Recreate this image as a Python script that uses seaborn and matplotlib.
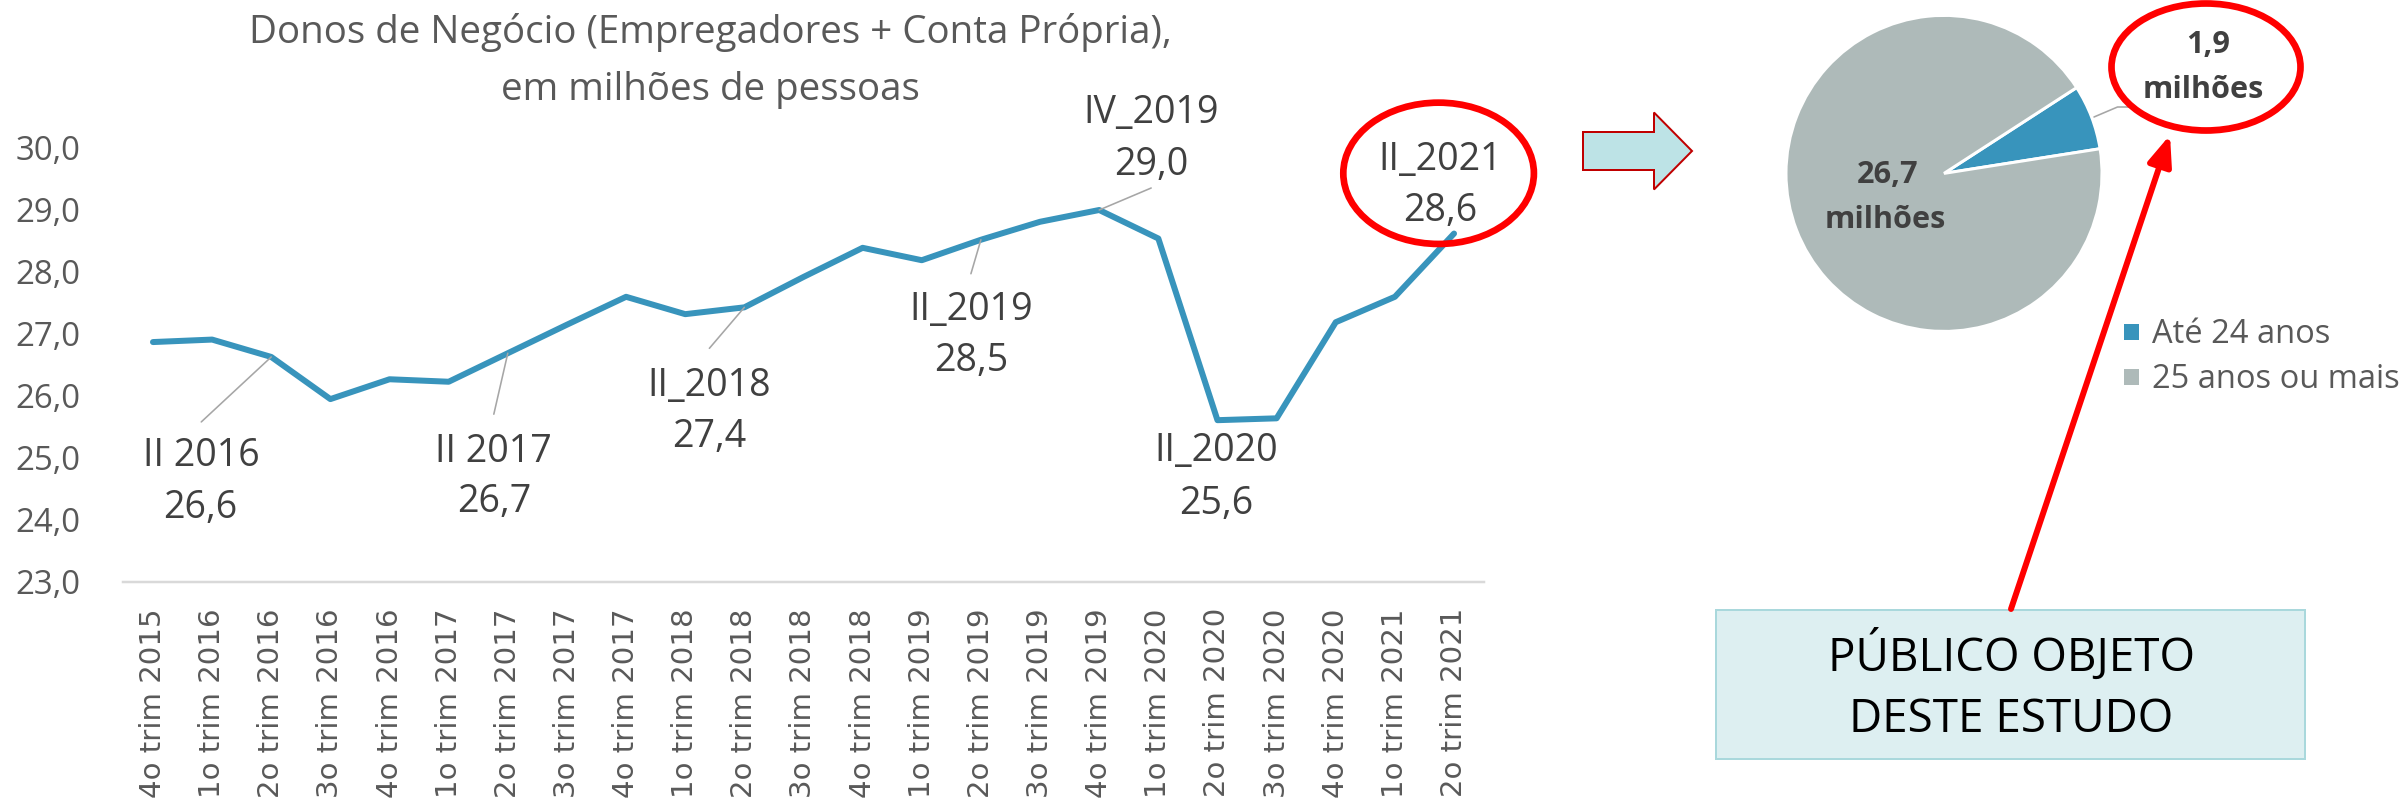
import numpy as np
import pandas as pd
import matplotlib
matplotlib.use("Agg")
import matplotlib.pyplot as plt
import seaborn as sns
from matplotlib.patches import Ellipse, Polygon, Rectangle, FancyArrowPatch
from matplotlib.lines import Line2D

# ---------------- data ----------------
quarters = ["4o trim 2015", "1o trim 2016", "2o trim 2016", "3o trim 2016", "4o trim 2016",
            "1o trim 2017", "2o trim 2017", "3o trim 2017", "4o trim 2017",
            "1o trim 2018", "2o trim 2018", "3o trim 2018", "4o trim 2018",
            "1o trim 2019", "2o trim 2019", "3o trim 2019", "4o trim 2019",
            "1o trim 2020", "2o trim 2020", "3o trim 2020", "4o trim 2020",
            "1o trim 2021", "2o trim 2021"]
owners = [26.87, 26.91, 26.63, 25.95, 26.27, 26.23, 26.69, 27.15, 27.60, 27.32, 27.43,
          27.92, 28.39, 28.19, 28.52, 28.81, 29.00, 28.54, 25.61, 25.64, 27.19, 27.60, 28.62]
yticks = [23, 24, 25, 26, 27, 28, 29, 30]
label_idx = [2, 6, 10, 14, 16, 18, 22]
label_names = ["II 2016", "II 2017", "II_2018", "II_2019", "IV_2019", "II_2020", "II_2021"]
pie_labels = ["Até 24 anos", "25 anos ou mais"]
pie_values = [1.9, 26.7]
title_lines = ["Donos de Negócio (Empregadores + Conta Própria),", "em milhões de pessoas"]
box_lines = ["PÚBLICO OBJETO", "DESTE ESTUDO"]

# ---------------- style ----------------
sns.set_theme(style="white")
plt.rcParams["font.family"] = ["Open Sans", "DejaVu Sans"]
W, H = 2399, 802
PT = 72 / 100.0
BLUE = "#3894BC"
GRAY_PIE = "#AEBAB9"
TXT = "#404040"
TXT2 = "#595959"
RED = "#FF0000"

fig = plt.figure(figsize=(W / 100, H / 100), dpi=100)
fig.patch.set_facecolor("white")


def fx(x):
    return x / W


def fy(y):
    return 1 - y / H


def fit_size(s, target, **kw):
    t = fig.text(0, 0, s, fontsize=20, **kw)
    w = t.get_window_extent(fig.canvas.get_renderer()).width
    t.remove()
    return 20 * target / w


def fmt(v):
    return f"{v:.1f}".replace(".", ",")


# ---------------- line chart ----------------
x0, x1, ybot, ytop = 123.4, 1483.6, 582.0, 148.0
ax = fig.add_axes([fx(x0), fy(ybot), (x1 - x0) / W, (ybot - ytop) / H])
df = pd.DataFrame({"pos": np.arange(len(quarters)), "value": owners})
sns.lineplot(data=df, x="pos", y="value", ax=ax, color=BLUE, lw=6 * PT,
             solid_capstyle="round", solid_joinstyle="round")
ax.set_xlim(-0.5, len(quarters) - 0.5)
ax.set_ylim(yticks[0], yticks[-1])
ax.set_xlabel("")
ax.set_ylabel("")
ax.set_facecolor("none")
for s in ["top", "left", "right"]:
    ax.spines[s].set_visible(False)
ax.spines["bottom"].set_color("#D9D9D9")
ax.spines["bottom"].set_linewidth(2.5 * PT)
ax.grid(False)

ytick_size = fit_size("30,0", 65)
ax.set_yticks(yticks)
ax.set_yticklabels([fmt(v) for v in yticks])
ax.tick_params(axis="y", length=0, pad=43 * PT, labelsize=ytick_size, labelcolor=TXT2)
ax.set_xticks(np.arange(len(quarters)))
ax.set_xticklabels(quarters, rotation=90, family="DejaVu Sans")
xtick_size = fit_size("4o trim 2015", 190, family="DejaVu Sans")
ax.tick_params(axis="x", length=0, pad=26 * PT, labelsize=xtick_size, labelcolor=TXT2)

# data labels (offsets in px, y downward)
lbl_size = fit_size("II_2021", 124)
label_style = {
    2: ((-70, 96), (-71, 148), (-70, 65)),
    6: ((-14, 95), (-14, 145), (-14, 61)),
    10: ((-35, 75), (-35, 126), (-35, 41)),
    14: ((-10, 67), (-10, 118), (-10, 34)),
    16: ((52, -100), (52, -48), (52, -22)),
    18: ((-1, 27), (-1, 80), None),
    22: ((-14, -77), (-14, -26), None),
}
base_off = 0.357 * lbl_size / PT
for i, name in zip(label_idx, label_names):
    v = owners[i]
    n_off, v_off, lead = label_style[i]
    ax.annotate(name, xy=(i, v), xytext=(n_off[0], -(n_off[1] + base_off)),
                textcoords="offset pixels", ha="center", va="baseline",
                fontsize=lbl_size, color=TXT, annotation_clip=False)
    ax.annotate(fmt(v), xy=(i, v), xytext=(v_off[0], -(v_off[1] + base_off)),
                textcoords="offset pixels", ha="center", va="baseline",
                fontsize=lbl_size, color=TXT, annotation_clip=False)
    if lead is not None:
        ax.annotate("", xy=(i, v), xytext=(lead[0], -lead[1]), textcoords="offset pixels",
                    arrowprops=dict(arrowstyle="-", color="#A6A6A6", lw=1.6 * PT,
                                    shrinkA=0, shrinkB=0), annotation_clip=False)

# title
t_size = fit_size(title_lines[0], 922)
fig.text(fx(710), fy(43), title_lines[0], ha="center", va="baseline", fontsize=t_size, color=TXT2)
fig.text(fx(710), fy(100), title_lines[1], ha="center", va="baseline", fontsize=t_size, color=TXT2)

# red ellipse around last label
fig.add_artist(Ellipse((fx(1438.6), fy(173.3)), 190.6 / W, 141.3 / H, transform=fig.transFigure,
                       fill=False, edgecolor=RED, lw=6.7 * PT, zorder=5))

# block arrow
arrow_pts = [(1583, 132), (1654, 132), (1654, 112.5), (1692, 151), (1654, 189.5), (1654, 170), (1583, 170)]
fig.add_artist(Polygon([(fx(a), fy(b)) for a, b in arrow_pts], closed=True, transform=fig.transFigure,
                       facecolor="#BDE3E6", edgecolor="#C00000", lw=2 * PT, joinstyle="miter"))

# ---------------- pie ----------------
cx, cy, r = 1944.0, 173.4, 158.0
axp = fig.add_axes([fx(cx - r), fy(cy + r), 2 * r / W, 2 * r / H])
wedges, _ = axp.pie(pie_values, colors=[BLUE, GRAY_PIE], startangle=32.9, counterclock=False,
                    radius=1, wedgeprops=dict(edgecolor="white", linewidth=3 * PT))
axp.set_xlim(-1, 1)
axp.set_ylim(-1, 1)
axp.set_aspect("auto")
axp.axis("off")

bold_size = fit_size("milhões", 121, fontweight="bold")
bo = 0.357 * bold_size / PT
pie_text_pos = [((2208, 41.7), (2203.5, 87)), ((1888, 172), (1885.7, 216.7))]
for v, ((ax1, ay1), (ax2, ay2)) in zip(pie_values, pie_text_pos):
    fig.text(fx(ax1), fy(ay1 + bo), fmt(v), ha="center", va="baseline", fontsize=bold_size,
             fontweight="bold", color=TXT)
    fig.text(fx(ax2), fy(ay2 + bo), "milhões", ha="center", va="baseline", fontsize=bold_size,
             fontweight="bold", color=TXT)

fig.add_artist(Line2D([fx(2094), fx(2117.5), fx(2132)], [fy(117), fy(107), fy(107)],
                      transform=fig.transFigure, color="#A6A6A6", lw=1.6 * PT))
fig.add_artist(Ellipse((fx(2206), fy(67)), 189 / W, 127 / H, transform=fig.transFigure,
                       fill=False, edgecolor=RED, lw=6.7 * PT, zorder=5))

# legend
leg_size = fit_size(pie_labels[0], 178)
lf = leg_size / PT
fig.legend(wedges, pie_labels, loc="upper left",
           bbox_to_anchor=(fx(2122), fy(343 - 0.76 * lf)), bbox_transform=fig.transFigure,
           frameon=False, fontsize=leg_size, labelcolor=TXT2,
           handlelength=18 / lf, handleheight=18 / lf, handletextpad=12 / lf,
           labelspacing=12 / lf, borderpad=0, borderaxespad=0)

# box with text
fig.add_artist(Rectangle((fx(1716), fy(758.6)), (2305 - 1716) / W, (758.6 - 610) / H,
                         transform=fig.transFigure, facecolor="#DDEFF1", edgecolor="#A9D8DC",
                         lw=2 * PT, zorder=3))
box_size = fit_size(box_lines[0], 367)
bb = 0.357 * box_size / PT
for s, yc in zip(box_lines, [655, 716]):
    fig.text(fx(2011), fy(yc + bb), s, ha="center", va="baseline", fontsize=box_size,
             color="black", zorder=4)

# red arrow
fig.add_artist(FancyArrowPatch((fx(2011), fy(609)), (fx(2170), fy(135)), transform=fig.transFigure,
                               arrowstyle="-|>,head_length=0.9,head_width=0.36", mutation_scale=20,
                               color=RED, lw=4.3, shrinkA=0, shrinkB=0, zorder=6))

fig.savefig("out.png", dpi=100, facecolor="white")
